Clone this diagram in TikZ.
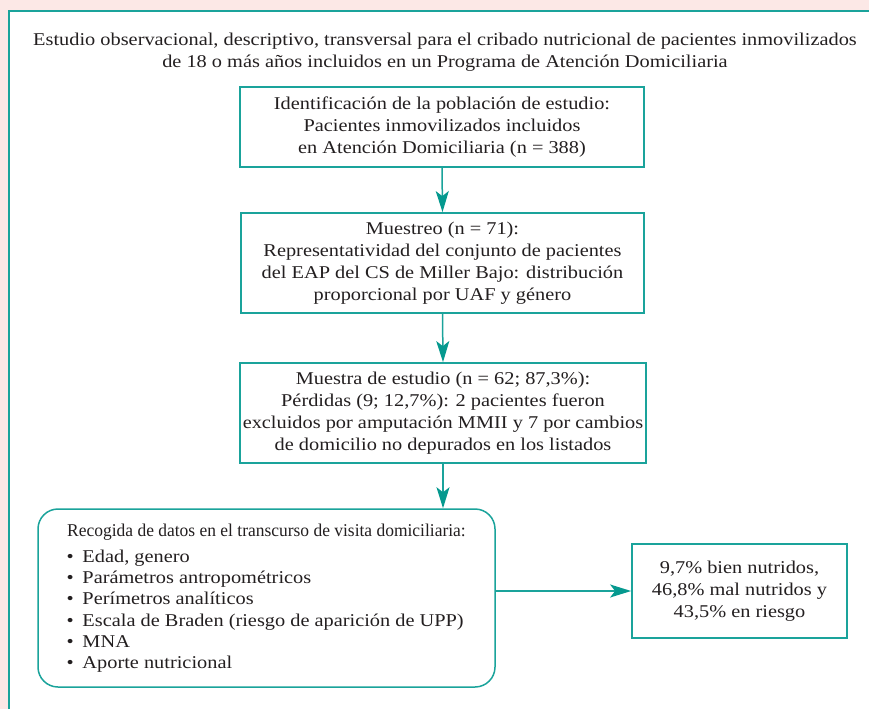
\documentclass[tikz,border=0pt]{standalone}
\usepackage{fontspec}
\setmainfont[FakeStretch=1.13]{Liberation Serif}
\newfontfamily\condfont[FakeStretch=0.97]{Liberation Serif}
\usetikzlibrary{arrows.meta}
\definecolor{tealline}{HTML}{1AA39B}
\definecolor{tealarrow}{HTML}{05998F}
\definecolor{pinkbg}{HTML}{FCE8E6}
\definecolor{txt}{HTML}{231F20}
\begin{document}
\begin{tikzpicture}[x=1pt,y=-1pt,
  every node/.style={text=txt, font=\fontsize{18}{22}\selectfont},
  box/.style={draw=tealline, line width=1.8pt, fill=white, inner sep=0pt, align=center},
  roundbox/.style={box, rounded corners=20pt, line width=1.5pt},
  arr/.style={draw=tealline, line width=1.5pt, -{Stealth[length=21pt,width=13pt,inset=5pt,fill=tealarrow,color=tealarrow]}}
]
\useasboundingbox (0,0) rectangle (869,709);
\fill[pinkbg] (0,0) rectangle (869,709);
\fill[white] (9,11.5) rectangle (869,709);
\draw[tealline, line width=2pt] (9,709) -- (9,11.5) -- (869,11.5);

\node[align=center] (title) at (445,52) {Estudio observacional, descriptivo, transversal para el cribado nutricional de pacientes inmovilizados\\de 18 o más años incluidos en un Programa de Atención Domiciliaria};

\node[box, minimum width=404pt, minimum height=80pt] (b1) at (442,127)
  {Identificación de la población de estudio:\\Pacientes inmovilizados incluidos\\en Atención Domiciliaria (n = 388)};
\node[box, minimum width=403pt, minimum height=100pt] (b2) at (442.5,263)
  {Muestreo (n = 71):\\Representatividad del conjunto de pacientes\\del EAP del CS de Miller Bajo: distribución\\proporcional por UAF y género};
\node[box, minimum width=406pt, minimum height=100pt] (b3) at (443,413)
  {Muestra de estudio (n = 62; 87,3\%):\\Pérdidas (9; 12,7\%): 2 pacientes fueron\\excluidos por amputación MMII y 7 por cambios\\de domicilio no depurados en los listados};
\node[roundbox, minimum width=457pt, minimum height=178pt] (b4) at (266.5,598)
  {\begin{minipage}{430pt}\fontsize{18}{21.2}\selectfont
   \centering{\condfont Recogida de datos en el transcurso de visita domiciliaria:}\par\vspace{5pt}
   \raggedright
   \hspace*{15pt}\makebox[16pt][l]{\textbullet}Edad, genero\\
   \hspace*{15pt}\makebox[16pt][l]{\textbullet}Parámetros antropométricos\\
   \hspace*{15pt}\makebox[16pt][l]{\textbullet}Perímetros analíticos\\
   \hspace*{15pt}\makebox[16pt][l]{\textbullet}Escala de Braden (riesgo de aparición de UPP)\\
   \hspace*{15pt}\makebox[16pt][l]{\textbullet}MNA\\
   \hspace*{15pt}\makebox[16pt][l]{\textbullet}Aporte nutricional
   \end{minipage}};
\node[box, minimum width=215pt, minimum height=94pt] (b5) at (739.5,591)
  {9,7\% bien nutridos,\\46,8\% mal nutridos y\\43,5\% en riesgo};

\draw[arr] (b1.south) -- (b2.north);
\draw[arr] (b2.south) -- (b3.north);
\draw[arr] (b3.south) -- (b3.south |- b4.north);
\draw[arr] (b5.west -| b4.east) -- (b5.west);
\end{tikzpicture}
\end{document}
